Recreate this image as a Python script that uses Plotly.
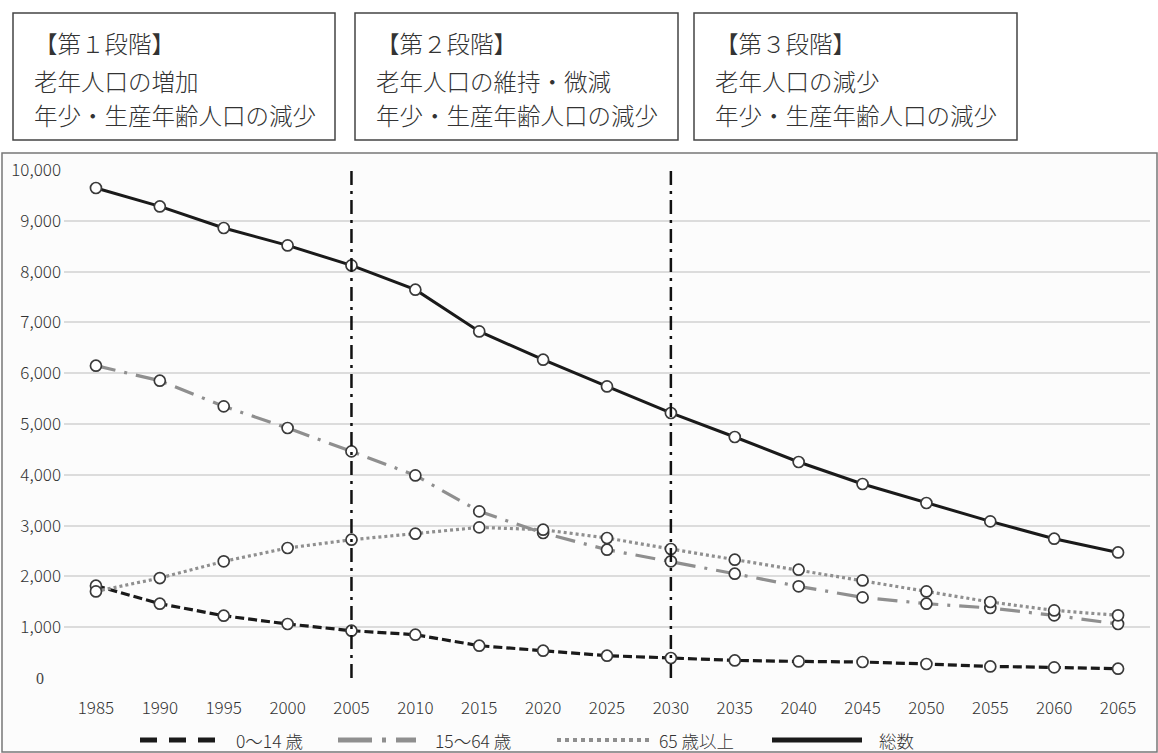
import plotly.graph_objects as go

# Population by age group (persons)
years = [1985, 1990, 1995, 2000, 2005, 2010, 2015, 2020, 2025,
         2030, 2035, 2040, 2045, 2050, 2055, 2060, 2065]
pop_0_14 = [1817, 1463, 1226, 1063, 931, 852, 636, 537, 439,
            394, 346, 327, 315, 276, 228, 209, 183]
pop_15_64 = [6148, 5852, 5347, 4921, 4461, 3988, 3280, 2854, 2526,
             2296, 2053, 1804, 1587, 1463, 1378, 1233, 1063]
pop_65_plus = [1705, 1968, 2296, 2559, 2722, 2841, 2965, 2919, 2756,
               2539, 2329, 2132, 1921, 1705, 1496, 1331, 1233]
pop_total = [9646, 9283, 8858, 8516, 8122, 7644, 6823, 6266, 5740,
             5217, 4744, 4252, 3819, 3445, 3083, 2742, 2472]

series_names = ["0〜14 歳", "15〜64 歳", "65 歳以上", "総数"]
stage_boundaries = [2005, 2030]
stage_texts = [
    ["【第１段階】", "老年人口の増加", "年少・生産年齢人口の減少"],
    ["【第２段階】", "老年人口の維持・微減", "年少・生産年齢人口の減少"],
    ["【第３段階】", "老年人口の減少", "年少・生産年齢人口の減少"],
]
y_ticks = list(range(0, 10001, 1000))
y_tick_labels = [f"{v:,}" if v else "" for v in y_ticks]

# Canvas geometry
W, H = 1158, 753
L, R, T, B = 64, 8, 170, 75
PW, PH = W - L - R, H - T - B


def px(x):
    return (x - L) / PW


def py(y):
    return (H - B - y) / PH


FONT = "Noto Sans CJK JP"
TEXT = "#333333"

styles = [
    dict(color="#1a1a1a", width=3.2, dash="9px,4px"),
    dict(color="#8f8f8f", width=3.2, dash="20px,9px,3px,9px"),
    dict(color="#8f8f8f", width=3.2, dash="3px,3px"),
    dict(color="#1a1a1a", width=3, dash="solid"),
]
values = [pop_0_14, pop_15_64, pop_65_plus, pop_total]

fig = go.Figure()
for name, vals, st in zip(series_names, values, styles):
    fig.add_trace(go.Scatter(
        x=years, y=vals, name=name, mode="lines+markers",
        line=st,
        marker=dict(symbol="circle", size=11, color="white",
                    line=dict(color="#3a3a3a", width=1.7)),
        cliponaxis=False, showlegend=False,
    ))

# Stage boundaries
for yr in stage_boundaries:
    fig.add_trace(go.Scatter(
        x=[yr, yr], y=[0, 10000], mode="lines",
        line=dict(color="#111111", width=2.5, dash="14px,6px,3px,6px"),
        hoverinfo="skip", showlegend=False,
    ))

shapes = []
annotations = []

# Chart frame
shapes.append(dict(type="rect", xref="paper", yref="paper",
                   x0=px(2), x1=px(1157), y0=py(752), y1=py(153),
                   line=dict(color="#777777", width=1.5),
                   fillcolor="#fcfcfc", layer="below"))

# Stage boxes with their descriptions
boxes = [(13, 335), (355, 678), (694, 1017)]
line_y = [43, 81, 115]
for (bx0, bx1), lines in zip(boxes, stage_texts):
    shapes.append(dict(type="rect", xref="paper", yref="paper",
                       x0=px(bx0), x1=px(bx1), y0=py(140), y1=py(13),
                       line=dict(color="#444444", width=1.5),
                       fillcolor="white"))
    for ly, txt in zip(line_y, lines):
        annotations.append(dict(
            x=px(bx0 + 19), y=py(ly), xref="paper", yref="paper",
            text=txt, showarrow=False, xanchor="left", yanchor="middle",
            font=dict(family=FONT, size=23.5, color=TEXT, weight=300)))

# Zero label of the value axis
annotations.append(dict(
    x=px(40), y=py(678), xref="paper", yref="paper", text="0",
    showarrow=False, xanchor="center", yanchor="middle",
    font=dict(family="Liberation Serif", size=16, color="#444444")))

# Legend
legend_items = [
    (140, 220, 234, dict(color="#1a1a1a", width=5, dash="17px,12px")),
    (338, 416, 433, dict(color="#8f8f8f", width=5, dash="34px,10px,4px,10px")),
    (557, 650, 657, dict(color="#8f8f8f", width=4, dash="4px,4px")),
    (772, 862, 877, dict(color="#1a1a1a", width=5, dash="solid")),
]
for (sx0, sx1, tx, ln), name in zip(legend_items, series_names):
    shapes.append(dict(type="line", xref="paper", yref="paper",
                       x0=px(sx0), x1=px(sx1), y0=py(740), y1=py(740),
                       line=ln))
    annotations.append(dict(
        x=px(tx), y=py(740), xref="paper", yref="paper", text=name,
        showarrow=False, xanchor="left", yanchor="middle",
        font=dict(family=FONT, size=17.5, color=TEXT, weight=300)))

fig.update_layout(
    width=W, height=H,
    margin=dict(l=L, r=R, t=T, b=B, pad=0),
    paper_bgcolor="white", plot_bgcolor="rgba(0,0,0,0)",
    font=dict(family=FONT, color=TEXT),
    shapes=shapes, annotations=annotations,
    xaxis=dict(range=[1982.5, 2067.5], tickmode="array", tickvals=years,
               ticktext=[str(y) for y in years], showgrid=False,
               zeroline=False, showline=False, ticks="",
               ticklabelstandoff=18,
               tickfont=dict(family=FONT, size=17, color=TEXT, weight=300)),
    yaxis=dict(range=[0, 10000], tickmode="array", tickvals=y_ticks,
               ticktext=y_tick_labels, showgrid=True,
               gridcolor="#dcdcdc", gridwidth=2, zeroline=False,
               showline=False, ticks="", ticklabelstandoff=2,
               tickfont=dict(family=FONT, size=17, color=TEXT, weight=300)),
)

fig.write_html("out.html")
